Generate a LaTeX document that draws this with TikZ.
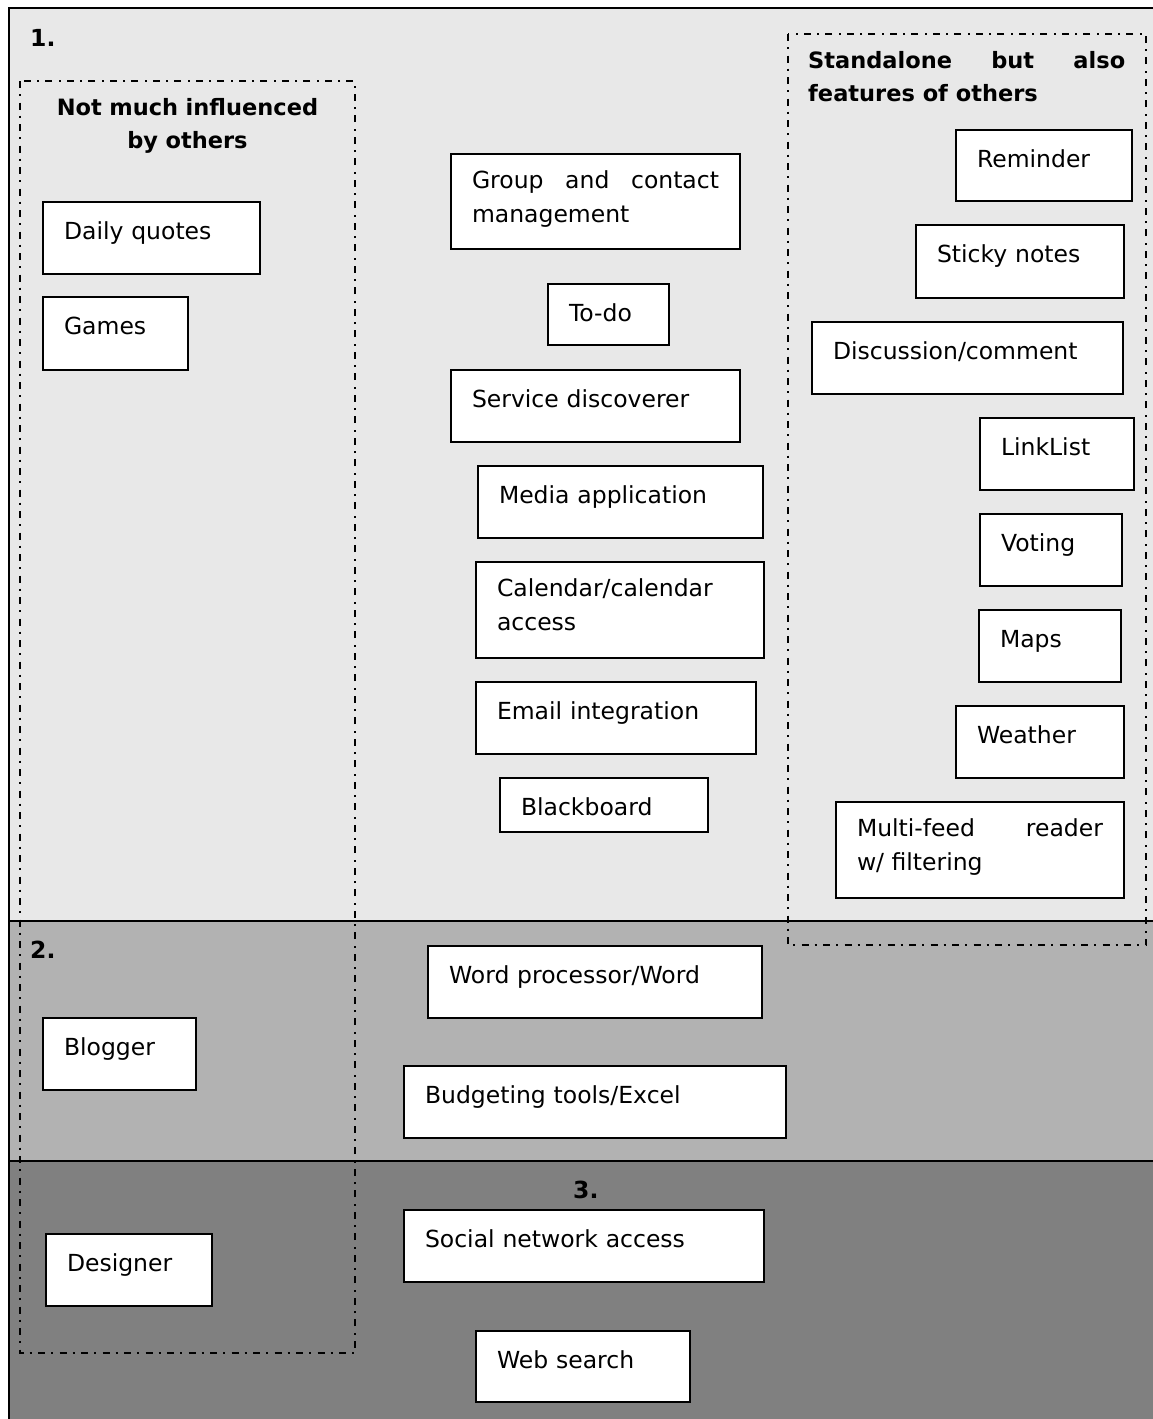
\documentclass[tikz,border=0pt]{standalone}
\usepackage{fontspec}
\setmainfont{DejaVu Sans}
\usepackage{tikz}
\usetikzlibrary{positioning}
\definecolor{inkBlack}{RGB}{0, 0, 0}
\definecolor{tierOne}{RGB}{232, 232, 232}
\definecolor{tierTwo}{RGB}{178, 178, 178}
\definecolor{tierThree}{RGB}{128, 128, 128}
\tikzset{
  feature/.style={draw=inkBlack, fill=white, line width=2pt, anchor=north west,
    inner xsep=21pt, inner ysep=0pt, align=left, text height=37pt,
    font=\fontsize{23.5pt}{34pt}\selectfont},
  twoline/.style={text height=34pt},
  groupline/.style={draw=inkBlack, line width=2pt, dash pattern=on 7pt off 6pt on 2pt off 6.5pt},
  heading/.style={inner sep=0pt, font=\fontsize{22.5pt}{33pt}\selectfont\bfseries},
  tierlabel/.style={inner sep=0pt, anchor=base west, font=\fontsize{23.5pt}{34pt}\selectfont\bfseries}
}

\begin{document}
\begin{tikzpicture}[x=1pt, y=-1pt]
  \useasboundingbox (0,0) rectangle (1152,1419);

  % the three tiers
  \fill[tierOne] (9,8) rectangle (1160,921);
  \fill[tierTwo] (9,921) rectangle (1160,1161);
  \fill[tierThree] (9,1161) rectangle (1160,1430);
  \draw[line width=2pt] (9,1430) -- (9,8) -- (1160,8);
  \draw[line width=2pt] (9,921) -- (1160,921);
  \draw[line width=2pt] (9,1161) -- (1160,1161);

  \node[tierlabel] (tierOneLabel) at (30,46.7) {1.};
  \node[tierlabel] (tierTwoLabel) at (30,958) {2.};
  \node[tierlabel] (tierThreeLabel) at (573,1198) {3.};

  % groupings
  \draw[groupline] (20,81) rectangle (355,1353);
  \draw[groupline] (788,34) rectangle (1146,945);
  \node[heading, text width=300pt, align=center, anchor=base] (notMuch) at (187.5,115) {Not much influenced\\by others};
  \node[heading, text width=317pt, align=justify, anchor=base west] (alsoFeature) at (808,68.3) {Standalone but also\linebreak features of others};

  % left column
  \node[feature, text width=175pt, text depth=35pt] (dailyQuotes) at (42,201) {Daily quotes};
  \node[feature, text width=103pt, text depth=36pt] (games) at (42,296) {Games};
  \node[feature, text width=111pt, text depth=35pt] (blogger) at (42,1017) {Blogger};
  \node[feature, text width=124pt, text depth=35pt] (designer) at (45,1233) {Designer};

  % middle column
  \node[feature, twoline, align=justify, text width=247pt, text depth=61pt] (groupContact) at (450,153) {Group and contact management};
  \node[feature, text width=79pt, text depth=24pt] (toDo) at (547,283) {To-do};
  \node[feature, text width=247pt, text depth=35pt] (serviceDisc) at (450,369) {Service discoverer};
  \node[feature, text width=243pt, text depth=35pt] (mediaApp) at (477,465) {Media application};
  \node[feature, twoline, text width=246pt, text depth=62pt] (calendar) at (475,561) {Calendar/calendar\\access};
  \node[feature, text width=238pt, text depth=35pt] (emailInt) at (475,681) {Email integration};
  \node[feature, text width=166pt, text depth=17pt] (blackboard) at (499,777) {Blackboard};
  \node[feature, text width=292pt, text depth=35pt] (wordProc) at (427,945) {Word processor/Word};
  \node[feature, text width=340pt, text depth=35pt] (budgeting) at (403,1065) {Budgeting tools/Excel};
  \node[feature, text width=318pt, text depth=35pt] (socialNet) at (403,1209) {Social network access};
  \node[feature, text width=172pt, text depth=34pt] (webSearch) at (475,1330) {Web search};

  % right column
  \node[feature, text width=134pt, text depth=34pt] (reminder) at (955,129) {Reminder};
  \node[feature, text width=166pt, text depth=36pt] (stickyNotes) at (915,224) {Sticky notes};
  \node[feature, text width=269pt, text depth=35pt] (discussion) at (811,321) {Discussion/comment};
  \node[feature, text width=112pt, text depth=35pt] (linkList) at (979,417) {LinkList};
  \node[feature, text width=100pt, text depth=35pt] (voting) at (979,513) {Voting};
  \node[feature, text width=100pt, text depth=35pt] (maps) at (978,609) {Maps};
  \node[feature, text width=126pt, text depth=35pt] (weather) at (955,705) {Weather};
  \node[feature, twoline, align=justify, text width=246pt, text depth=62pt] (multiFeed) at (835,801) {Multi-feed reader\linebreak w/ filtering};
\end{tikzpicture}
\end{document}
